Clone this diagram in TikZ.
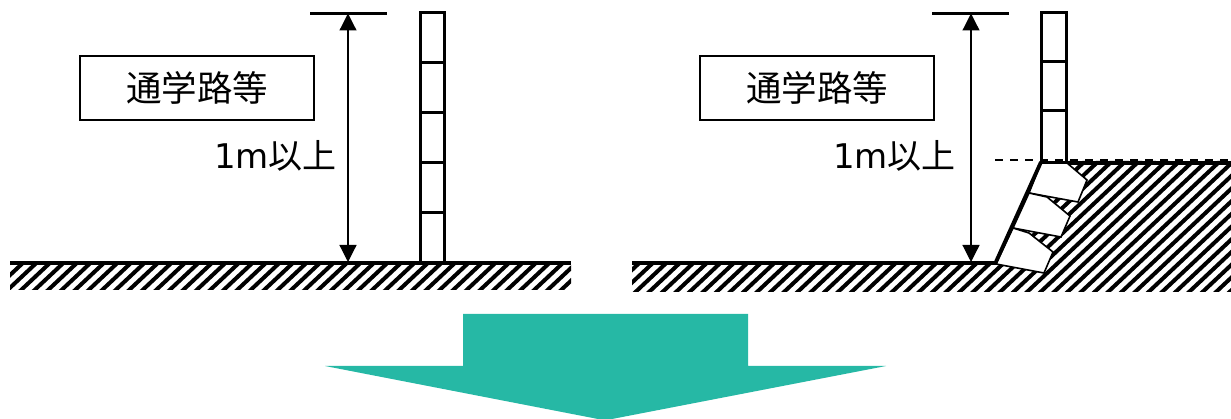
\documentclass[tikz,border=0pt]{standalone}
\usepackage{fontspec}
\setmainfont{DejaVu Sans}
\newfontfamily\cjk{Noto Sans CJK JP}
\usetikzlibrary{arrows.meta}
\definecolor{teal1}{HTML}{26B8A5}
\tikzset{
  groundline/.style={line width=3.6pt},
  postline/.style={line width=3pt},
  hatchline/.style={line width=4pt,line cap=butt},
  blockshape/.style={fill=white,draw=black,line width=1.6pt,line join=miter},
  dimline/.style={line width=1.2pt,{Triangle[length=17pt,width=17pt]}-{Triangle[length=17pt,width=17pt]}},
  topline/.style={line width=2.4pt},
  labelbox/.style={draw=black,line width=1.5pt,minimum width=234pt,minimum height=64pt,inner sep=0pt,font=\cjk\fontsize{35.5}{35.5}\selectfont},
  dimtext/.style={inner sep=0pt,font=\fontsize{34}{34}\selectfont}
}
\begin{document}
\begin{tikzpicture}[x=1pt,y=-1pt]
\useasboundingbox (0,0) rectangle (1231,419);
% left hatch
\begin{scope}
\clip (10,262) rectangle (571,290);
\foreach \i in {0,...,46}{\draw[hatchline] (\i*13.5-30,300) -- ++(50,-47);}
\end{scope}
% right hatch
\begin{scope}
\clip (632,262) -- (995,262) -- (1041,161) -- (1231,161) -- (1231,292) -- (632,292) -- cycle;
\foreach \i in {0,...,58}{\draw[hatchline] (\i*13.5+600,300) -- ++(170,-160);}
\end{scope}
% ground
\draw[groundline] (10,263) -- (571,263);
\draw[groundline] (632,263) -- (996,263);
\draw[line width=4pt] (1041,163) -- (1231,163);
\draw[line width=1.6pt,dash pattern=on 8pt off 7pt] (995,160) -- (1231,160);
% blocks
\draw[blockshape] (1041,163) -- (1067,163) -- (1087,180) -- (1078,202) -- (1029,193) -- cycle;
\draw[blockshape] (1029,193) -- (1047,197) -- (1070,216) -- (1061,237) -- (1013,228) -- cycle;
\draw[blockshape] (1013,228) -- (1029,233) -- (1053,252) -- (1044,273) -- (996,264) -- cycle;
\draw[line width=3.8pt] (995,264) -- (1041,162);
% posts
\draw[postline] (420,13) rectangle (444,263);
\foreach \y in {63,113,163,213}{\draw[postline] (420,\y) -- (444,\y);}
\draw[postline] (1041.5,13) rectangle (1066,163);
\foreach \y in {62,111}{\draw[postline] (1041.5,\y) -- (1066,\y);}
% dimensions
\coordinate (lt) at (348,13.5); \coordinate (lb) at (348,262);
\coordinate (rt) at (971,13.5); \coordinate (rb) at (971,262);
\coordinate (lta) at (310,13.5); \coordinate (ltb) at (387,13.5);
\coordinate (rta) at (932,13.5); \coordinate (rtb) at (1009,13.5);
\draw[topline] (lta) -- (ltb);
\draw[topline] (rta) -- (rtb);
\draw[dimline] (lt) -- (lb);
\draw[dimline] (rt) -- (rb);
% labels
\node[labelbox] (boxl) at (197,88) {通学路等};
\node[labelbox] (boxr) at (817,88) {通学路等};
\node[dimtext,anchor=west] (diml) at (214,156) {1m{\cjk 以上}};
\node[dimtext,anchor=west] (dimr) at (833,156) {1m{\cjk 以上}};
% big arrow
\fill[teal1] (463,314) -- (748,314) -- (748,366) -- (886,366) -- (612,419) -- (598,419) -- (325,366) -- (463,366) -- cycle;
\end{tikzpicture}
\end{document}
